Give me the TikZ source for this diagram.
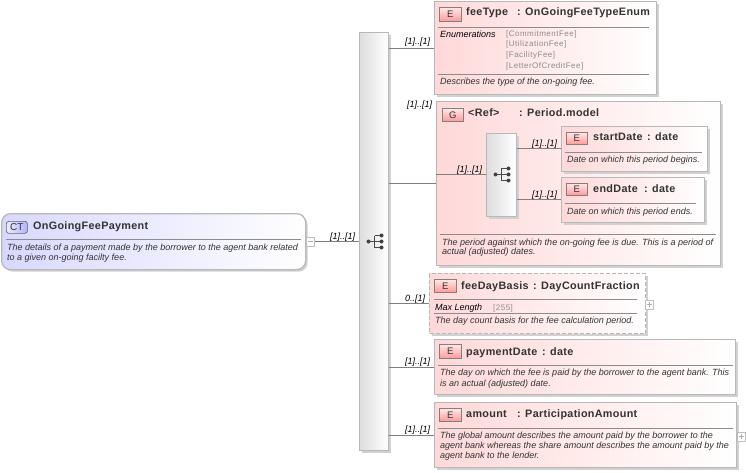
\documentclass[tikz,border=0pt]{standalone}
\usepackage{fontspec}
\setmainfont{Liberation Sans}
\newfontfamily\ttlfont[LetterSpace=3]{Liberation Sans}
\newfontfamily\valfont[LetterSpace=6]{Liberation Sans}
\usetikzlibrary{shadows}
\definecolor{linegrey}{HTML}{8C8C8C}
\definecolor{txtdark}{HTML}{333333}
\definecolor{framegrey}{HTML}{B8B8B8}
\definecolor{pinkfill}{HTML}{FFD8D8}
\definecolor{bluefill}{HTML}{D8D8FF}
\tikzset{
  x=1pt,y=-1pt,
  lbl/.style={anchor=base west,inner sep=0pt,font=\fontsize{9}{10}\selectfont\itshape,text=black},
  ttl/.style={anchor=base west,inner sep=0pt,font=\fontsize{10.8}{12}\selectfont\ttlfont\bfseries,text=txtdark},
  dsc/.style={anchor=base west,inner sep=0pt,font=\fontsize{9}{10}\selectfont\itshape,text=txtdark},
  val/.style={anchor=base west,inner sep=0pt,font=\fontsize{8}{10}\selectfont\valfont,text=black!45},
  ebox/.style={anchor=north west,draw=framegrey,line width=1.3pt,left color=pinkfill,right color=white,inner sep=0pt,
    drop shadow={shadow xshift=2.5pt,shadow yshift=-2.5pt,fill=black!18,opacity=1}},
  dbox/.style={ebox,dash pattern=on 4pt off 2pt},
  ctbox/.style={anchor=north west,draw=framegrey,line width=1.3pt,rounded corners=9pt,left color=bluefill,right color=white,inner sep=0pt,
    drop shadow={shadow xshift=2pt,shadow yshift=-2pt,fill=black!18,opacity=1}},
  seqbox/.style={anchor=north west,draw=framegrey,line width=1.3pt,left color=black!13,right color=white,inner sep=0pt,
    drop shadow={shadow xshift=2.5pt,shadow yshift=-2.5pt,fill=black!18,opacity=1}},
  badge/.style={anchor=north west,draw=black!50,line width=.7pt,top color=pinkfill!60,bottom color=red!40,
    text=txtdark,inner sep=0pt,font=\fontsize{9.5}{10}\selectfont},
  ctbadge/.style={anchor=north west,draw=black!60,rounded corners=2.5pt,line width=.7pt,left color=bluefill!50,right color=blue!30,
    text=txtdark,inner sep=0pt,font=\fontsize{10}{10}\selectfont},
  sep/.style={draw=linegrey,line width=.6pt},
  conn/.style={draw=black!50,line width=.5pt},
  toggle/.style={anchor=north west,draw=black!25,fill=white,line width=.5pt,inner sep=0pt,minimum width=8pt,minimum height=8.5pt},
  togglemark/.style={draw=black!30,line width=.5pt},
  seqicon/.pic={
    \fill[black!75] (-6.5,0) circle (2);
    \draw[black!70,line width=.7pt] (-6.5,0) -- (6.5,0) (-.5,-6) -- (-.5,6) (-.5,-6) -- (6.5,-6) (-.5,6) -- (6.5,6);
    \fill[black!75] (6.5,-6) circle (2) (6.5,0) circle (2) (6.5,6) circle (2);
  }
}
\begin{document}
\begin{tikzpicture}
\useasboundingbox (0,0) rectangle (746,473);
% Boxes
\node[ctbox,minimum width=304pt,minimum height=56pt] (ct) at (1,213) {};
\node[seqbox,minimum width=29pt,minimum height=418pt] (seq) at (359,32) {};
\node[ebox,minimum width=222pt,minimum height=93pt] (feetype) at (434,1) {};
\node[ebox,minimum width=284pt,minimum height=164pt] (period) at (436,101) {};
\node[seqbox,minimum width=30pt,minimum height=83pt] (seqin) at (486,133) {};
\node[ebox,minimum width=146pt,minimum height=45pt] (start) at (561,126) {};
\node[ebox,minimum width=143pt,minimum height=45pt] (end) at (561,177) {};
\node[dbox,minimum width=216pt,minimum height=60pt] (daybasis) at (429,273) {};
\node[ebox,minimum width=301pt,minimum height=55pt] (paydate) at (434,339) {};
\node[ebox,minimum width=302pt,minimum height=65pt] (amount) at (434,402) {};
% Toggles
\node[toggle] (tgct) at (306,237) {};
\node[toggle] (tgday) at (645,300) {};
\node[toggle] (tgamt) at (737,432) {};
\draw[togglemark] ([xshift=-2.5pt]tgct.center) -- ([xshift=2.5pt]tgct.center);
\draw[togglemark] ([xshift=-2.5pt]tgday.center) -- ([xshift=2.5pt]tgday.center) ([yshift=-2.5pt]tgday.center) -- ([yshift=2.5pt]tgday.center);
\draw[togglemark] ([xshift=-2.5pt]tgamt.center) -- ([xshift=2.5pt]tgamt.center) ([yshift=-2.5pt]tgamt.center) -- ([yshift=2.5pt]tgamt.center);
% Connector ends
\coordinate (pin) at (436,174);
\coordinate (startin) at (561,148);
\coordinate (endin) at (561,199);
% Connectors
\draw[conn] (tgct.east) -- (seq.west |- tgct.east);
\draw[conn] (seq.east |- feetype.west) -- (feetype.west);
\draw[conn] (seq.east |- period.west) -- (period.west);
\draw[conn] (seq.east |- daybasis.west) -- (daybasis.west);
\draw[conn] (seq.east |- paydate.west) -- (paydate.west);
\draw[conn] (seq.east |- amount.west) -- (amount.west);
\draw[conn] (pin) -- (seqin.west |- pin);
\draw[conn] (seqin.east |- startin) -- (startin);
\draw[conn] (seqin.east |- endin) -- (endin);
% Sequence icons
\pic at (375,241.5) {seqicon};
\pic at (502,174.5) {seqicon};
% Complex type
\node[ctbadge,minimum width=21pt,minimum height=12pt] (ctb) at (6,221) {CT};
\node[ttl] (ctt) at (33,229) {OnGoingFeePayment};
\draw[sep] (6,239) -- (301,239);
\node[dsc] (ctd1) at (7,250) {The details of a payment made by the borrower to the agent bank related};
\node[dsc] (ctd2) at (7,260) {to a given on-going facilty fee.};
\node[lbl] (l0) at (330,239) {[1]..[1]};
% feeType
\node[lbl] (l1) at (405,45) {[1]..[1]};
\node[badge,minimum width=22pt,minimum height=14pt] (b1) at (439,7) {E};
\node[ttl] (t1) at (466,16) {feeType};
\node[ttl] (t1b) at (517,16) {: OnGoingFeeTypeEnum};
\draw[sep] (438,27) -- (649,27);
\node[dsc,text=black] (e0) at (440,38) {Enumerations};
\node[val] (e1) at (506,37) {[CommitmentFee]};
\node[val] (e2) at (506,47) {[UtilizationFee]};
\node[val] (e3) at (506,58) {[FacilityFee]};
\node[val] (e4) at (506,69) {[LetterOfCreditFee]};
\draw[sep] (438,74) -- (649,74);
\node[dsc] (d1) at (440,85) {Describes the type of the on-going fee.};
% Period
\node[lbl] (l2) at (407,108) {[1]..[1]};
\node[badge,minimum width=21pt,minimum height=13pt] (b2) at (442,108) {G};
\node[ttl] (t2) at (468,116.5) {<Ref>};
\node[ttl] (t2b) at (519,116.5) {: Period.model};
\draw[sep] (440,234) -- (716,234);
\node[dsc] (d2a) at (442,245) {The period against which the on-going fee is due. This is a period of};
\node[dsc] (d2b) at (442,254) {actual (adjusted) dates.};
\node[lbl] (l3) at (457,172) {[1]..[1]};
% startDate
\node[lbl] (l4) at (532,147) {[1]..[1]};
\node[badge,minimum width=21pt,minimum height=12pt] (b3) at (566,132) {E};
\node[ttl] (t3) at (593,141) {startDate};
\node[ttl] (t3b) at (647,141) {: date};
\draw[sep] (565,152) -- (702,152);
\node[dsc] (d3) at (567,163) {Date on which this period begins.};
% endDate
\node[lbl] (l5) at (532,197) {[1]..[1]};
\node[badge,minimum width=21pt,minimum height=12pt] (b4) at (566,183) {E};
\node[ttl] (t4) at (593,192) {endDate};
\node[ttl] (t4b) at (644,192) {: date};
\draw[sep] (565,203) -- (696,203);
\node[dsc] (d4) at (567,214) {Date on which this period ends.};
% feeDayBasis
\node[lbl] (l6) at (405,301) {0..[1]};
\node[badge,minimum width=22pt,minimum height=13pt] (b5) at (434,279) {E};
\node[ttl] (t5) at (461,289) {feeDayBasis};
\node[ttl] (t5b) at (533,289) {: DayCountFraction};
\draw[sep] (434,299) -- (637,299);
\node[dsc,text=black] (m0) at (435,310) {Max Length};
\node[val] (m1) at (493,310) {[255]};
\draw[sep] (434,313) -- (637,313);
\node[dsc] (d5) at (435,323) {The day count basis for the fee calculation period.};
% paymentDate
\node[lbl] (l7) at (405,364) {[1]..[1]};
\node[badge,minimum width=22pt,minimum height=14pt] (b6) at (439,344) {E};
\node[ttl] (t6) at (466,355) {paymentDate};
\node[ttl] (t6b) at (542,355) {: date};
\draw[sep] (438,365) -- (733,365);
\node[dsc] (d6a) at (440,375) {The day on which the fee is paid by the borrower to the agent bank. This};
\node[dsc] (d6b) at (440,386) {is an actual (adjusted) date.};
% amount
\node[lbl] (l8) at (405,432) {[1]..[1]};
\node[badge,minimum width=22pt,minimum height=13pt] (b7) at (439,408) {E};
\node[ttl] (t7) at (466,417) {amount};
\node[ttl] (t7b) at (517,417) {: ParticipationAmount};
\draw[sep] (438,428) -- (733,428);
\node[dsc] (d7a) at (440,438) {The global amount describes the amount paid by the borrower to the};
\node[dsc] (d7b) at (440,448) {agent bank whereas the share amount describes the amount paid by the};
\node[dsc] (d7c) at (440,458) {agent bank to the lender.};
\end{tikzpicture}
\end{document}
